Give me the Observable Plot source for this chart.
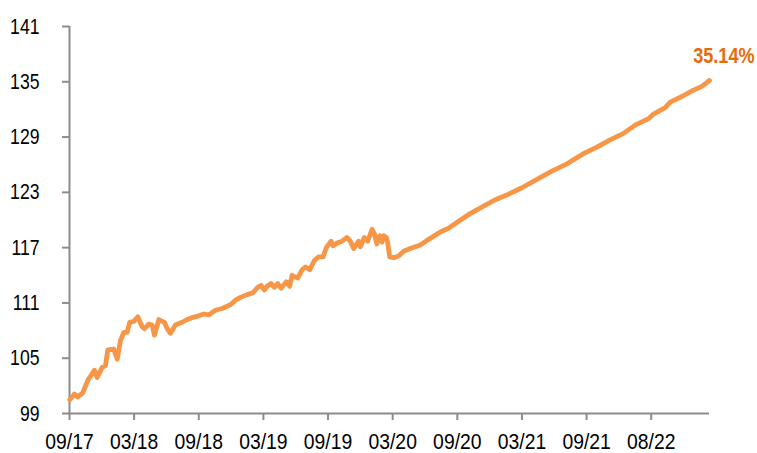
<!DOCTYPE html>
<html><head><meta charset="utf-8">
<script src="https://cdn.jsdelivr.net/npm/d3@7"></script>
<script src="https://cdn.jsdelivr.net/npm/@observablehq/plot@0.6"></script>
<style>body{margin:0;background:#fff}</style>
</head><body><div id="chart"></div>
<script>
// months since 09/2017
const months = [0.03,0.46,0.77,1.21,1.70,2.32,2.57,3.03,3.34,3.55,4.11,4.43,4.73,5.04,5.35,5.59,5.97,6.34,6.75,6.96,7.36,7.67,7.89,8.29,8.60,8.81,9.07,9.37,9.83,10.46,10.92,11.38,12.00,12.46,12.92,13.55,14.17,14.94,15.40,15.87,16.49,17.04,17.47,17.79,18.09,18.34,18.71,19.02,19.33,19.64,20.13,20.44,20.66,20.97,21.18,21.59,21.90,22.30,22.73,23.13,23.54,23.84,24.28,24.47,24.84,25.30,25.76,26.07,26.38,26.84,27.00,27.37,27.68,28.09,28.30,28.53,28.79,29.01,29.16,29.41,29.53,29.72,30.09,30.55,31.02,31.64,32.57,33.34,34.42,35.19,36.06,37.20,38.44,39.52,40.76,42.00,43.39,44.78,46.18,47.72,48.96,50.19,51.43,52.51,53.75,54.21,55.30,55.76,56.85,57.92,58.70,59.41];
const values = [100.5,101.1,100.8,101.2,102.6,103.7,102.9,104.0,104.2,105.9,106.0,104.9,106.9,107.8,107.8,108.9,109.0,109.5,108.4,108.2,108.7,108.6,107.5,109.2,109.0,108.9,108.2,107.7,108.6,108.9,109.2,109.4,109.6,109.8,109.7,110.2,110.4,110.8,111.3,111.6,111.9,112.1,112.7,112.9,112.4,112.8,113.1,112.7,113.1,112.6,113.3,112.8,114.0,113.8,113.7,114.6,114.9,114.6,115.6,116.0,116.0,117.0,117.7,117.2,117.5,117.7,118.1,117.7,116.9,117.7,117.1,118.1,117.7,119.0,118.5,117.4,118.3,117.6,118.3,118.1,117.6,116.0,115.9,116.1,116.6,116.9,117.3,117.9,118.7,119.1,119.8,120.7,121.5,122.2,122.8,123.5,124.4,125.3,126.1,127.2,127.9,128.7,129.4,130.3,131.0,131.5,132.2,132.8,133.4,134.1,134.5,135.14];
const tickMonths = [0,6,12,18,24,30,36,42,48,54];
const tickLabels = ["09/17","03/18","09/18","03/19","09/19","03/20","09/20","03/21","09/21","08/22"];
const yTicks = [99,105,111,117,123,129,135,141];
const endLabel = "35.14%";

const data = months.map((m, i) => ({m, v: values[i]}));
const font = "'Liberation Sans','Arial',sans-serif";
const axisColor = "#8c8c8c";

const chart = Plot.plot({
  width: 757, height: 453,
  marginLeft: 69, marginRight: 48, marginTop: 26, marginBottom: 40,
  style: {fontFamily: font, fontSize: "22.5px", background: "#fff", color: "#000"},
  x: {domain: [0, 59.41], label: null},
  y: {domain: [99, 141], label: null},
  marks: [
    Plot.axisY({ticks: yTicks, tickSize: 7, tickPadding: 23, stroke: axisColor, strokeWidth: 2, fontSize: 22, label: null, tickFormat: d => d}),
    Plot.axisX({ticks: tickMonths, tickSize: 7, tickPadding: 13, stroke: axisColor, strokeWidth: 2, fontSize: 22.5, label: null, tickFormat: d => tickLabels[tickMonths.indexOf(d)]}),
    Plot.ruleX([0], {stroke: axisColor, strokeWidth: 2}),
    Plot.ruleY([99], {stroke: axisColor, strokeWidth: 2}),
    Plot.line(data, {x: "m", y: "v", stroke: "#F79646", strokeWidth: 4.8, strokeLinejoin: "round", strokeLinecap: "round"}),
    Plot.text([data[data.length - 1]], {x: "m", y: "v", text: () => endLabel, textAnchor: "end", dx: 45, dy: -24, fill: "#E46C0A", fontWeight: "bold", fontSize: 21.5})
  ]
});
document.getElementById("chart").appendChild(chart);
// condense glyphs to mimic a narrow typeface
const condense = (sel, k) => chart.querySelectorAll(sel).forEach(t => {
  const w = t.getComputedTextLength();
  if (w > 0) {
    t.setAttribute("textLength", (w * k).toFixed(1));
    t.setAttribute("lengthAdjust", "spacingAndGlyphs");
  }
});
condense('[aria-label="y-axis tick label"] text', 0.8);
condense('[aria-label="x-axis tick label"] text', 0.86);
condense('g[aria-label="text"] text', 0.84);
</script>
</body></html>
